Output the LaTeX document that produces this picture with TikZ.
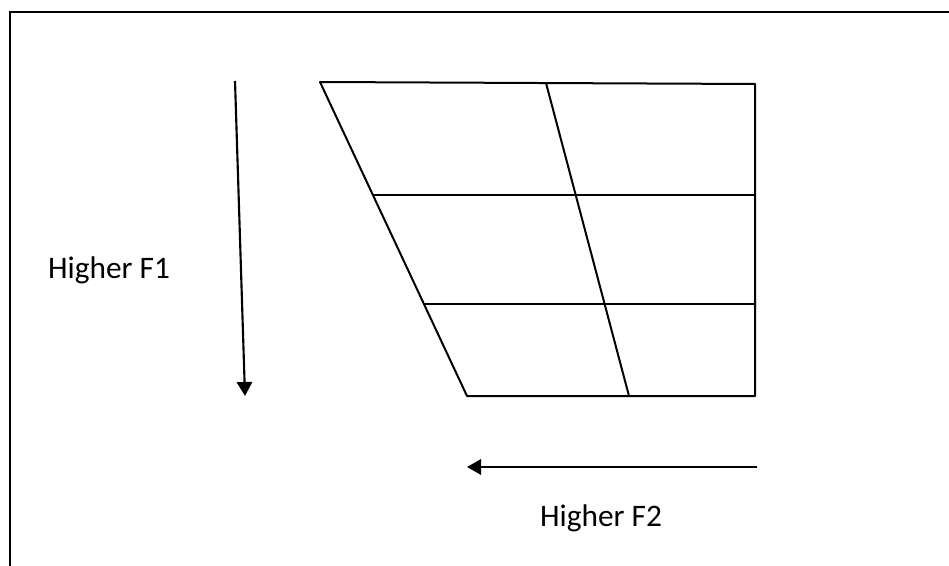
\documentclass[tikz,border=0pt]{standalone}
\usepackage{fontspec}
\setmainfont{Carlito}
\usetikzlibrary{arrows.meta}
\begin{document}
\begin{tikzpicture}[x=0.75pt,y=-0.75pt,
  gridline/.style={line width=1.5pt, line cap=round, line join=round},
  frameline/.style={line width=1.6pt},
  axisarrow/.style={line width=1.6pt, -{Triangle[length=10.5pt,width=11.5pt]}},
  lbl/.style={font=\fontsize{23.5}{28}\selectfont, anchor=base, inner sep=0pt}]
\useasboundingbox (0,0) rectangle (949,566);
% frame (extends past the right and bottom edges)
\draw[frameline] (10,566.5) -- (10,12) -- (949.5,12);
% grid corners
\coordinate (tl) at (320,82);
\coordinate (tr) at (755,84);
\coordinate (bl) at (467,396);
\coordinate (br) at (755,396);
\coordinate (m1l) at (373,195);
\coordinate (m1r) at (755,195);
\coordinate (m2l) at (424,304);
\coordinate (m2r) at (755,304);
\coordinate (vt) at (546,83);
\coordinate (vb) at (629,396);
\draw[gridline] (tl) -- (tr) -- (br) -- (bl) -- cycle;
\draw[gridline] (m1l) -- (m1r);
\draw[gridline] (m2l) -- (m2r);
\draw[gridline] (vt) -- (vb);
% arrows
\coordinate (a1s) at (235,81);
\coordinate (a1e) at (245,396);
\draw[axisarrow] (a1s) -- (a1e);
\coordinate (a2s) at (757,467);
\coordinate (a2e) at (467,467);
\draw[axisarrow] (a2s) -- (a2e);
% labels
\node[lbl] (f1) at (109,279) {Higher F1};
\node[lbl] (f2) at (601,526) {Higher F2};
\end{tikzpicture}
\end{document}
